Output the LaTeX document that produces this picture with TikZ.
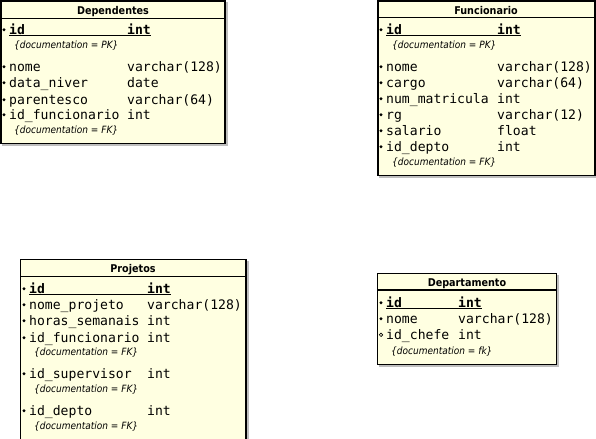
\documentclass[tikz,border=0pt]{standalone}
\usepackage{fontspec}
\newfontfamily\monof{DejaVu Sans Mono}
\newfontfamily\condf[FakeStretch=0.9]{DejaVu Sans}
\definecolor{boxfill}{RGB}{255,255,225}
\definecolor{shadowgray}{RGB}{190,190,190}
\newcommand\fieldrow[7]{%
  \fill (#2,#5+0.8) circle (1.6);
  \node[mono,anchor=mid west] (#1n) at (#3,#5) {#6};
  \node[mono,anchor=mid west] (#1t) at (#4,#5) {#7};}
\newcommand\keyrow[6]{%
  \fill (#2,#5+0.8) circle (1.6);
  \node[mono,anchor=mid west,font=\monof\bfseries\fontsize{13.1bp}{15bp}\selectfont] (#1n) at (#3,#5) {#6};
  \node[mono,anchor=mid west,font=\monof\bfseries\fontsize{13.1bp}{15bp}\selectfont] (#1t) at (#4,#5) {int};
  \draw[line width=1.1] ([yshift=-1.6]#1n.base west) -- ([yshift=-1.6]#1t.base east);}
\begin{document}
\begin{tikzpicture}[x=1bp,y=-1bp,
  mono/.style={inner sep=0pt,yshift=-3bp,font=\monof\fontsize{13.1bp}{15bp}\selectfont},
  docf/.style={inner sep=0pt,anchor=mid west,yshift=-2bp,font=\condf\itshape\fontsize{10bp}{12bp}\selectfont},
  titlef/.style={inner sep=0pt,yshift=-1.5bp,font=\condf\bfseries\fontsize{10.7bp}{12bp}\selectfont},
  tablebox/.style={draw=black,line width=1.7,fill=boxfill},
  shadowbox/.style={draw=shadowgray,line width=1.2}]
\useasboundingbox (0,0) rectangle (596,439);
% ---------- Dependentes ----------
\draw[shadowbox] (227,2) -- (227,145) -- (2,145);
\draw[tablebox] (0.8,0.8) rectangle (225,143.5);
\draw[line width=1.4] (0.8,18.5) -- (225,18.5);
\node[titlef] (tdep) at (113,10) {Dependentes};
\keyrow{d1}{4}{9}{127}{29}{id}
\node[docf] (d1d) at (14,44) {\{documentation = PK\}};
\fieldrow{d2}{4}{9}{127}{66}{nome}{varchar(128)}
\fieldrow{d3}{4}{9}{127}{82}{data\_niver}{date}
\fieldrow{d4}{4}{9}{127}{99}{parentesco}{varchar(64)}
\fieldrow{d5}{4}{9}{127}{114}{id\_funcionario}{int}
\node[docf] (d5d) at (14,129) {\{documentation = FK\}};
% ---------- Funcionario ----------
\draw[shadowbox] (596.5,2) -- (596.5,177) -- (379,177);
\draw[tablebox] (377.8,0.8) rectangle (595,175.5);
\draw[line width=1.4] (377.8,17.8) -- (595,17.8);
\node[titlef] (tfun) at (486,9) {Funcionario};
\keyrow{f1}{381}{386}{497}{29}{id}
\node[docf] (f1d) at (392,44) {\{documentation = PK\}};
\fieldrow{f2}{381}{386}{497}{66}{nome}{varchar(128)}
\fieldrow{f3}{381}{386}{497}{82}{cargo}{varchar(64)}
\fieldrow{f4}{381}{386}{497}{98}{num\_matricula}{int}
\fieldrow{f5}{381}{386}{497}{114}{rg}{varchar(12)}
\fieldrow{f6}{381}{386}{497}{130}{salario}{float}
\fieldrow{f7}{381}{386}{497}{146}{id\_depto}{int}
\node[docf] (f7d) at (392,161) {\{documentation = FK\}};
% ---------- Projetos ----------
\draw[shadowbox] (248,261) -- (248,445);
\draw[tablebox] (20.5,259.5) rectangle (246,446);
\draw[line width=1.4] (20.5,276.5) -- (246,276.5);
\node[titlef] (tproj) at (133,268.5) {Projetos};
\keyrow{p1}{24}{29}{147}{288}{id}
\fieldrow{p2}{24}{29}{147}{304}{nome\_projeto}{varchar(128)}
\fieldrow{p3}{24}{29}{147}{320}{horas\_semanais}{int}
\fieldrow{p4}{24}{29}{147}{337}{id\_funcionario}{int}
\node[docf] (p4d) at (34,351) {\{documentation = FK\}};
\fieldrow{p5}{24}{29}{147}{373}{id\_supervisor}{int}
\node[docf] (p5d) at (34,388) {\{documentation = FK\}};
\fieldrow{p6}{24}{29}{147}{410}{id\_depto}{int}
\node[docf] (p6d) at (34,425) {\{documentation = FK\}};
% ---------- Departamento ----------
\draw[shadowbox] (558,275) -- (558,366) -- (379,366);
\draw[tablebox] (377.5,273.5) rectangle (556.5,364.5);
\draw[line width=1.4] (377.5,290) -- (556.5,290);
\node[titlef] (tdepto) at (467,282.5) {Departamento};
\keyrow{e1}{381}{386}{458}{302}{id}
\fieldrow{e2}{381}{386}{458}{318}{nome}{varchar(128)}
\draw[line width=0.7] (381,334.8) circle (1.7);
\node[mono,anchor=mid west] (e3n) at (386,334) {id\_chefe};
\node[mono,anchor=mid west] (e3t) at (458,334) {int};
\node[docf] (e3d) at (391,350) {\{documentation = fk\}};
\end{tikzpicture}
\end{document}
